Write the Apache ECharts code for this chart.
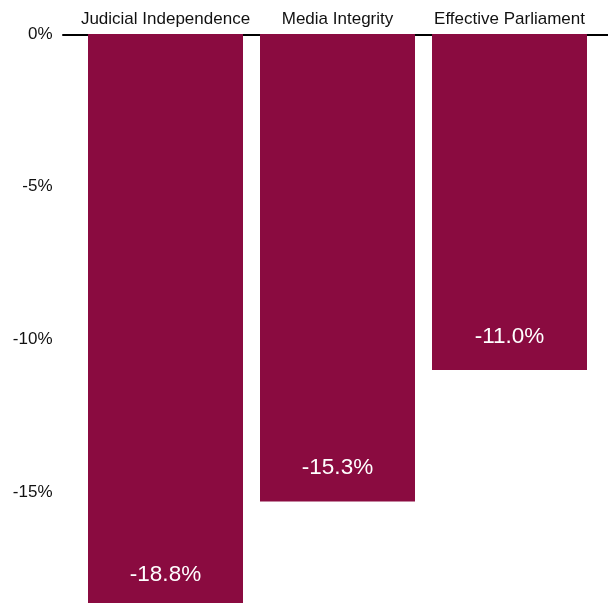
<!DOCTYPE html>
<html>
<head>
<meta charset="utf-8">
<script src="https://cdn.jsdelivr.net/npm/echarts@6/dist/echarts.min.js"></script>
<style>html,body{margin:0;padding:0;background:#fff;overflow:hidden;width:608px;height:603px;}#c{width:608px;height:645px;}</style>
</head>
<body>
<div id="c"></div>
<script>
const categories = ['Judicial Independence', 'Media Integrity', 'Effective Parliament'];
const values = [-18.8, -15.3, -11.0];
const yTicks = { min: -20, max: 0, interval: 5 };

const chart = echarts.init(document.getElementById('c'), null, { renderer: 'canvas' });
const font = 'Liberation Sans, Arial, sans-serif';
chart.setOption({
  animation: false,
  backgroundColor: '#ffffff',
  grid: [
    { left: 79.5, right: 12.5, top: 34, bottom: 0, outerBoundsMode: 'none', containLabel: false },
    { left: 63, right: 0, top: 34, height: 1, outerBoundsMode: 'none', containLabel: false }
  ],
  xAxis: [
    {
      type: 'category', data: categories, position: 'top', gridIndex: 0,
      axisLine: { show: false }, axisTick: { show: false },
      axisLabel: { color: '#111', fontSize: 17, fontFamily: font, margin: 6, interval: 0 }
    },
    {
      type: 'value', gridIndex: 1, position: 'top', min: 0, max: 1,
      axisLine: { show: true, lineStyle: { color: '#000', width: 2 } },
      axisTick: { show: false }, axisLabel: { show: false }, splitLine: { show: false }
    }
  ],
  yAxis: [
    {
      type: 'value', gridIndex: 0, min: yTicks.min, max: yTicks.max, interval: yTicks.interval,
      axisLine: { show: false }, axisTick: { show: false }, splitLine: { show: false },
      axisLabel: { color: '#111', fontSize: 17, fontFamily: font, margin: 27, formatter: v => v + '%' }
    },
    { type: 'value', gridIndex: 1, show: false }
  ],
  series: [{
    type: 'bar', data: values, xAxisIndex: 0, yAxisIndex: 0,
    barWidth: 155,
    itemStyle: { color: '#8A0B40' },
    label: {
      show: true, position: 'insideBottom', distance: 22,
      color: '#fff', fontSize: 22.5, fontFamily: font,
      formatter: p => p.value.toFixed(1) + '%'
    }
  }]
});
</script>
</body>
</html>
